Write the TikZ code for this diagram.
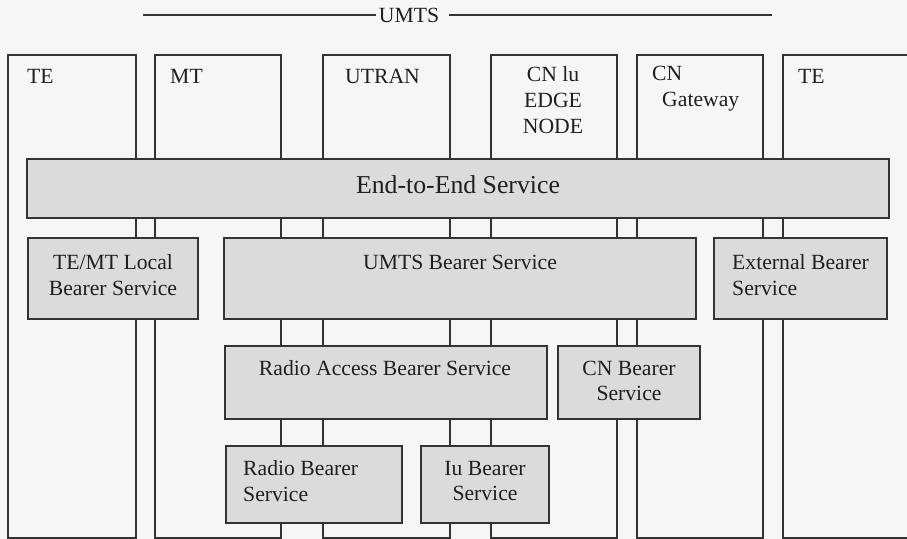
\documentclass[tikz,border=0pt]{standalone}
\usepackage{fontspec}
\setmainfont{Liberation Serif}

\definecolor{paper}{gray}{0.965}
\definecolor{servicegray}{gray}{0.86}
\definecolor{ink}{gray}{0.2}

\tikzset{
  column/.style={draw=ink, line width=1.3pt, fill=paper},
  service/.style={draw=ink, line width=1.3pt, fill=servicegray},
  lbl/.style={inner sep=0pt, text=black!88, font=\fontsize{18.5}{22}\selectfont},
}

\begin{document}
\begin{tikzpicture}[x=0.03cm, y=-0.03cm]
        \clip (0,0) rectangle (907,539);
        \fill[paper] (0,0) rectangle (907,539);

        % heading line
        \node[lbl] (umts) at (409,15) {UMTS};
        \coordinate (umtsl) at (143,15);
        \coordinate (umtsr) at (772,15);
        \draw[ink, line width=1.3pt] (umtsl) -- ([xshift=-2pt]umts.west);
        \draw[ink, line width=1.3pt] ([xshift=8pt]umts.east) -- (umtsr);

        % network element columns
        \draw[column] (8,55) rectangle (136,538);
        \node[lbl, anchor=west] (te1) at (27,76) {TE};
        \draw[column] (155,55) rectangle (281,538);
        \node[lbl, anchor=west] (mt) at (170,76) {MT};
        \draw[column] (323,55) rectangle (450,538);
        \node[lbl, anchor=west] (utran) at (345,76) {UTRAN};
        \draw[column] (491,55) rectangle (617,538);
        \node[lbl, align=center] (edge) at (553,100) {CN lu\\EDGE\\NODE};
        \draw[column] (637,55) rectangle (763,538);
        \node[lbl, align=left, anchor=west] (gw) at (652,89) {CN\\\hspace*{0.3cm}Gateway};
        \draw[column] (783,55) rectangle (940,538);
        \node[lbl, anchor=west] (te2) at (798,76) {TE};

        % bearer services
        \draw[service] (27,159) rectangle (889,218);
        \node[lbl, font=\fontsize{22}{26}\selectfont] (e2e) at (458,185) {End-to-End Service};

        \draw[service] (28,238) rectangle (198,319);
        \node[lbl, align=center] (local) at (113,275) {TE/MT Local\\Bearer Service};
        \draw[service] (224,238) rectangle (696,319);
        \node[lbl] (umtsbs) at (460,262) {UMTS Bearer Service};
        \draw[service] (714,238) rectangle (887,319);
        \node[lbl, align=left, anchor=west] (ext) at (732,275) {External Bearer\\Service};

        \draw[service] (225,346) rectangle (547,419);
        \node[lbl] (rab) at (385,368) {Radio Access Bearer Service};
        \draw[service] (558,346) rectangle (700,419);
        \node[lbl, align=center] (cnbs) at (629,381) {CN Bearer\\Service};

        \draw[service] (226,446) rectangle (402,523);
        \node[lbl, align=left, anchor=west] (rbs) at (243,481) {Radio Bearer\\Service};
        \draw[service] (421,446) rectangle (549,523);
        \node[lbl, align=center] (iubs) at (485,481) {Iu Bearer\\Service};
    \end{tikzpicture}
\end{document}
